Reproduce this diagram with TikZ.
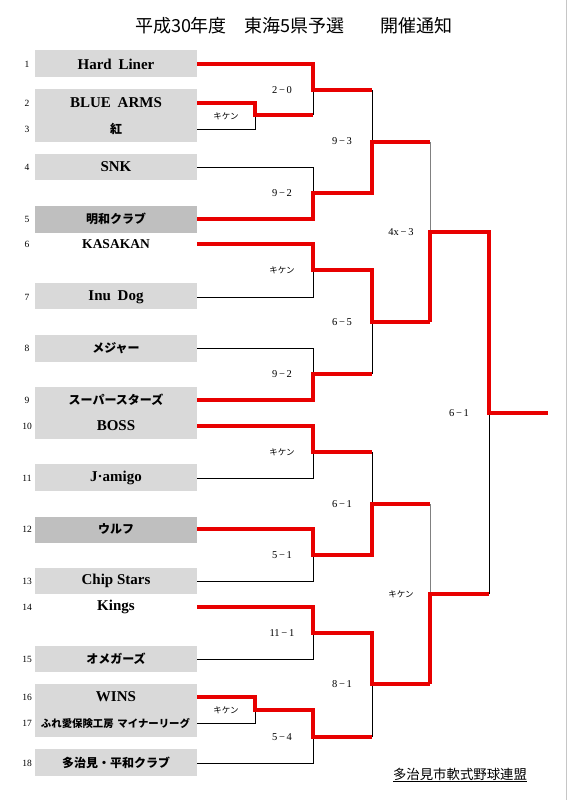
\documentclass[tikz,border=0pt]{standalone}
\usepackage{fontspec}
\setmainfont{Liberation Serif}
\newfontfamily\jp{Noto Sans CJK JP}
\definecolor{wred}{RGB}{232,0,0}
\definecolor{boxA}{RGB}{217,217,217}
\definecolor{boxB}{RGB}{191,191,191}
\newcommand{\mn}{\,−\,}
\begin{document}
\begin{tikzpicture}[x=1pt,y=-1pt,
  teambox/.style={fill=boxA, draw=none, minimum width=162pt, inner sep=0pt},
  darkbox/.style={teambox, fill=boxB},
  lat/.style={font=\bfseries\fontsize{15}{15}\selectfont, inner sep=0pt},
  jpn/.style={font=\jp\bfseries\fontsize{12}{12}\selectfont, inner sep=0pt},
  num/.style={font=\fontsize{9.5}{9.5}\selectfont, inner sep=0pt},
  score/.style={font=\fontsize{10.5}{10.5}\selectfont, inner sep=0pt},
  kiken/.style={font=\jp\fontsize{8.5}{8.5}\selectfont, inner sep=0pt},
  win/.style={draw=wred, line width=3.3pt},
  lose/.style={draw=black, line width=0.9pt},
  lgrey/.style={draw=gray, line width=0.9pt}]
\useasboundingbox (0,0) rectangle (567,800);
\fill[white] (0,0) rectangle (567,800);
\draw[gray!45, line width=1pt] (566,0) -- (566,800);

% title and footer
\node[font=\jp\fontsize{18}{18}\selectfont, inner sep=0pt] (title) at (294,26) {平成30年度　東海5県予選　　開催通知};
\node[font=\jp\fontsize{13.4}{13.4}\selectfont, inner sep=0pt] (org) at (460,775) {\underline{多治見市軟式野球連盟}};

% boxes
\node[teambox, minimum height=27pt] (b1) at (116,63.5) {};
\node[teambox, minimum height=53pt] (b23) at (116,115.5) {};
\node[teambox, minimum height=26pt] (b4) at (116,167) {};
\node[darkbox, minimum height=27pt] (b5) at (116,219.5) {};
\node[teambox, minimum height=26pt] (b7) at (116,296) {};
\node[teambox, minimum height=27pt] (b8) at (116,348.5) {};
\node[teambox, minimum height=52pt] (b910) at (116,413) {};
\node[teambox, minimum height=27pt] (b11) at (116,477.5) {};
\node[darkbox, minimum height=26pt] (b12) at (116,530) {};
\node[teambox, minimum height=26pt] (b13) at (116,581) {};
\node[teambox, minimum height=26pt] (b15) at (116,659) {};
\node[teambox, minimum height=53pt] (b1617) at (116,710.5) {};
\node[teambox, minimum height=27pt] (b18) at (116,762.5) {};

% seed numbers
\foreach \i/\yy in {1/64,2/103,3/129,4/167,5/219,6/244,7/297,8/348,9/400,10/426,11/478,12/529,13/581,14/607,15/659,16/697,17/723,18/763}{
  \node[num] (n\i) at (27,\yy) {\i};
  \coordinate (e\i) at (197,\yy);
}

% team names
\node[lat] (t1) at (116,64) {Hard\hspace{0.45em}Liner};
\node[lat] (t2) at (116,103) {BLUE\hspace{0.45em}ARMS};
\node[jpn] (t3) at (116,129) {紅};
\node[lat] (t4) at (116,167) {SNK};
\node[jpn] (t5) at (116,219) {明和クラブ};
\node[lat, font=\bfseries\fontsize{13.5}{13.5}\selectfont] (t6) at (116,244) {KASAKAN};
\node[lat] (t7) at (116,297) {Inu\hspace{0.45em}Dog};
\node[jpn] (t8) at (116,348) {メジャー};
\node[jpn] (t9) at (116,400) {スーパースターズ};
\node[lat] (t10) at (116,426) {BOSS};
\node[lat] (t11) at (116,478) {J·amigo};
\node[jpn] (t12) at (116,529) {ウルフ};
\node[lat] (t13) at (116,581) {Chip Stars};
\node[lat] (t14) at (116,607) {Kings};
\node[jpn] (t15) at (116,659) {オメガーズ};
\node[lat] (t16) at (116,697) {WINS};
\node[jpn, font=\jp\bfseries\fontsize{10.4}{10.4}\selectfont] (t17) at (115.5,723) {ふれ愛保険工房\hspace{0.35em}マイナーリーグ};
\node[jpn] (t18) at (116,763) {多治見・平和クラブ};

% junction points
\coordinate (p1) at (255,115);
\coordinate (p2) at (255,710);
\coordinate (m1) at (313,90);
\coordinate (m2) at (313,193);
\coordinate (m3) at (313,270);
\coordinate (m4) at (313,374);
\coordinate (m5) at (313,452);
\coordinate (m6) at (313,555);
\coordinate (m7) at (313,633);
\coordinate (m8) at (313,737);
\coordinate (k1) at (372,142);
\coordinate (k2) at (372,322);
\coordinate (k3) at (372,504);
\coordinate (k4) at (372,684);
\coordinate (q1) at (430,232);
\coordinate (q2) at (430,594);
\coordinate (f) at (489,413);
\coordinate (champ) at (548,413);

% losing lines
\draw[lose] (e3) -| (p1);
\draw[lose] (m1) -- (p1 -| m1);
\draw[lose] (e4) -| (m2);
\draw[lose] (m1 -| k1) -- (k1);
\draw[lose] (e7) -| (m3);
\draw[lose] (e8) -| (m4);
\draw[lose] (k2) -- (m4 -| k2);
\draw[lgrey] (k1 -| q1) -- (q1);
\draw[lose] (e11) -| (m5);
\draw[lose] (e13) -| (m6);
\draw[lose] (m5 -| k3) -- (k3);
\draw[lose] (e15) -| (m7);
\draw[lose] (e17) -| (p2);
\draw[lose] (e18) -| (m8);
\draw[lose] (k4) -- (m8 -| k4);
\draw[lgrey] (k3 -| q2) -- (q2);
\draw[lose] (f) -- (q2 -| f);

% winning lines
\draw[win] (e1) -| (m1) -- (m1 -| k1);
\draw[win] (e2) -| (p1) -- (p1 -| m1);
\draw[win] (e5) -| (m2) -- (m2 -| k1) -- (k1) -- (k1 -| q1);
\draw[win] (e6) -| (m3) -- (m3 -| k2) -- (k2) -- (k2 -| q1);
\draw[win] (e9) -| (m4) -- (m4 -| k2);
\draw[win] (k2 -| q1) -- (q1) -- (q1 -| f) -- (f) -- (champ);
\draw[win] (e10) -| (m5) -- (m5 -| k3);
\draw[win] (e12) -| (m6) -- (m6 -| k3) -- (k3) -- (k3 -| q2);
\draw[win] (e14) -| (m7) -- (m7 -| k4) -- (k4) -- (k4 -| q2);
\draw[win] (e16) -| (p2) -- (p2 -| m8) -- (m8) -- (m8 -| k4);
\draw[win] (k4 -| q2) -- (q2) -- (q2 -| f);

% scores
\node[kiken] (sp1) at (226,116) {キケン};
\node[kiken] (sp2) at (226,710) {キケン};
\node[score] (s1) at (282,90) {2\mn 0};
\node[score] (s2) at (282,193) {9\mn 2};
\node[kiken] (s3) at (282,270) {キケン};
\node[score] (s4) at (282,374) {9\mn 2};
\node[kiken] (s5) at (282,452) {キケン};
\node[score] (s6) at (282,555) {5\mn 1};
\node[score] (s7) at (282,633) {11\mn 1};
\node[score] (s8) at (282,737) {5\mn 4};
\node[score] (r1) at (342,141) {9\mn 3};
\node[score] (r2) at (342,322) {6\mn 5};
\node[score] (r3) at (342,504) {6\mn 1};
\node[score] (r4) at (342,684) {8\mn 1};
\node[score] (sf1) at (401,232) {4x\mn 3};
\node[kiken] (sf2) at (401,594) {キケン};
\node[score] (fin) at (459,413) {6\mn 1};
\end{tikzpicture}
\end{document}
